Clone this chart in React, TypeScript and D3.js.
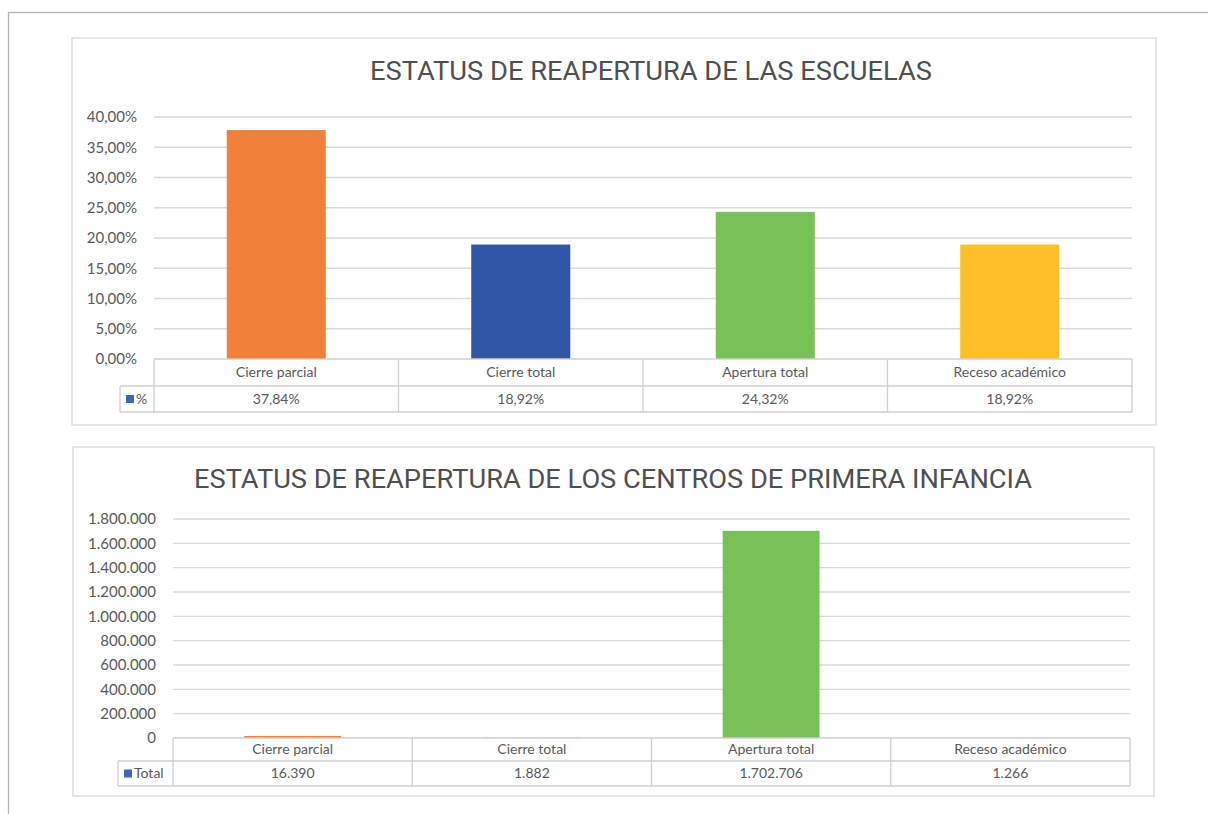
import * as d3 from 'd3';

// --- data ---
const categories = ['Cierre parcial', 'Cierre total', 'Apertura total', 'Receso académico'];
const barColors = ['#F0803A', '#2F57A5', '#77C256', '#FEBE2A'];

const schoolTitle = 'ESTATUS DE REAPERTURA DE LAS ESCUELAS';
const schoolSeries = '%';
const schoolValues = [0.3784, 0.1892, 0.2432, 0.1892];
const schoolTicks = [0, 0.05, 0.1, 0.15, 0.2, 0.25, 0.3, 0.35, 0.4];

const centerTitle = 'ESTATUS DE REAPERTURA DE LOS CENTROS DE PRIMERA INFANCIA';
const centerSeries = 'Total';
const centerValues = [16390, 1882, 1702706, 1266];
const centerTicks = [0, 200000, 400000, 600000, 800000, 1000000, 1200000, 1400000, 1600000, 1800000];

const esLocale = d3.formatLocale({ decimal: ',', thousands: '.', grouping: [3], currency: ['', ''] });
const fmtPct = esLocale.format('.2%');
const fmtInt = esLocale.format(',d');

const FONT = 'Lato, "Open Sans", sans-serif';
const TEXT = '#595959';
const GRID = '#D9D9D9';
const TABLE = '#CFCFCF';

interface ChartProps {
  title: string;
  titleX: number;
  titleY: number;
  titleLength: number;
  box: { x: number; y: number; w: number; h: number };
  plot: { left: number; right: number; top: number; bottom: number };
  legendLeft: number;
  rowH: [number, number];
  ticks: number[];
  values: number[];
  series: string;
  fmt: (v: number) => string;
}

function TableChart({ title, titleX, titleY, titleLength, box, plot, legendLeft, rowH, ticks, values, series, fmt }: ChartProps) {
  const yMax = ticks[ticks.length - 1];
  const y = d3.scaleLinear().domain([0, yMax]).range([plot.bottom, plot.top]);
  const x = d3.scaleBand<string>().domain(categories).range([plot.left, plot.right])
    .paddingInner(0.595).paddingOuter(0.2975);
  const colW = (plot.right - plot.left) / categories.length;
  const r1 = plot.bottom + rowH[0];
  const r2 = r1 + rowH[1];

  return (
    <g>
      <rect x={box.x} y={box.y} width={box.w} height={box.h} fill="#fff" stroke={GRID} strokeWidth={1.3} />
      <text x={titleX} y={titleY} textAnchor="middle" fontFamily='Roboto, "Liberation Sans", sans-serif'
        fontSize={26} fill="#4F4F4F" textLength={titleLength} lengthAdjust="spacingAndGlyphs">{title}</text>

      {ticks.map(t => (
        <g key={t}>
          {t > 0 && <line x1={plot.left} x2={plot.right} y1={y(t)} y2={y(t)} stroke={GRID} strokeWidth={1.3} />}
          <text x={plot.left - 17} y={y(t)} dy="0.35em" textAnchor="end" fontFamily={FONT} fontSize={15} fill={TEXT}>
            {fmt(t)}
          </text>
        </g>
      ))}

      {categories.map((c, i) => {
        const h = Math.max(plot.bottom - y(values[i]), 0);
        return <rect key={c} x={x(c)} y={plot.bottom - h} width={x.bandwidth()} height={h} fill={barColors[i]} />;
      })}

      {/* data table */}
      <line x1={plot.left} x2={plot.right} y1={plot.bottom} y2={plot.bottom} stroke={TABLE} strokeWidth={1.3} />
      <line x1={legendLeft} x2={plot.right} y1={r1} y2={r1} stroke={TABLE} strokeWidth={1.3} />
      <line x1={legendLeft} x2={plot.right} y1={r2} y2={r2} stroke={TABLE} strokeWidth={1.3} />
      <line x1={legendLeft} x2={legendLeft} y1={r1} y2={r2} stroke={TABLE} strokeWidth={1.3} />
      {d3.range(categories.length + 1).map(k => (
        <line key={k} x1={plot.left + k * colW} x2={plot.left + k * colW} y1={plot.bottom} y2={r2}
          stroke={TABLE} strokeWidth={1.3} />
      ))}
      {categories.map((c, i) => (
        <g key={c}>
          <text x={plot.left + (i + 0.5) * colW} y={(plot.bottom + r1) / 2} dy="0.35em" textAnchor="middle"
            fontFamily={FONT} fontSize={14} fill={TEXT}>{c}</text>
          <text x={plot.left + (i + 0.5) * colW} y={(r1 + r2) / 2} dy="0.35em" textAnchor="middle"
            fontFamily={FONT} fontSize={14} fill={TEXT}>{fmt(values[i])}</text>
        </g>
      ))}
      <rect x={legendLeft + 6} y={(r1 + r2) / 2 - 4} width={8} height={8} fill="#3A68B8" />
      <text x={legendLeft + 16} y={(r1 + r2) / 2} dy="0.35em" fontFamily={FONT} fontSize={14} fill={TEXT}>{series}</text>
    </g>
  );
}

export default function App() {
  return (
    <svg width={1208} height={814} style={{ position: 'absolute', left: 0, top: 0, background: '#fff' }}>
      <rect x={8.5} y={12.5} width={1220} height={820} fill="#fff" stroke="#B4B4B4" strokeWidth={1.3} />
      <TableChart
        title={schoolTitle} titleX={651} titleY={80} titleLength={562}
        box={{ x: 72, y: 38, w: 1084, h: 387 }}
        plot={{ left: 154, right: 1132, top: 117, bottom: 359 }}
        legendLeft={120} rowH={[27, 26]}
        ticks={schoolTicks} values={schoolValues} series={schoolSeries} fmt={fmtPct}
      />
      <TableChart
        title={centerTitle} titleX={613} titleY={488} titleLength={838}
        box={{ x: 73, y: 447, w: 1081, h: 349 }}
        plot={{ left: 173, right: 1130, top: 519, bottom: 738 }}
        legendLeft={118} rowH={[23, 25]}
        ticks={centerTicks} values={centerValues} series={centerSeries} fmt={fmtInt}
      />
    </svg>
  );
}
